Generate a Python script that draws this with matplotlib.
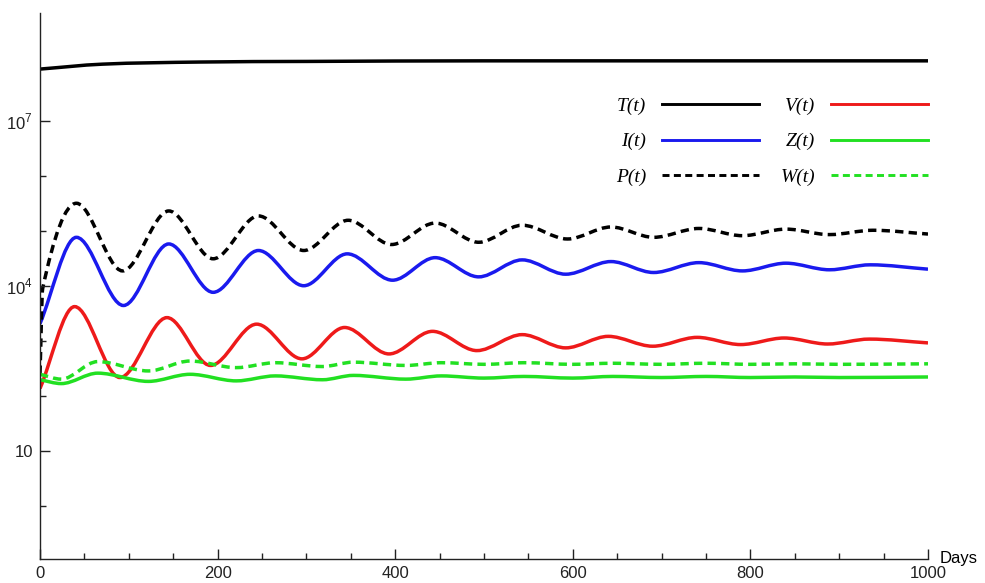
import numpy as np
import matplotlib
matplotlib.use("Agg")
import matplotlib.pyplot as plt
from matplotlib.path import Path
from matplotlib.patches import PathPatch
from matplotlib.lines import Line2D
from matplotlib.ticker import FixedLocator, FixedFormatter

plt.rcParams['mathtext.fontset'] = 'custom'
plt.rcParams['mathtext.rm'] = 'Liberation Sans'

# values (days, population)
t_T = [0, 70, 180, 300, 500, 1000]
T_vals = [8.71e7, 1.07e8, 1.17e8, 1.20e8, 1.23e8, 1.23e8]

t_P = [0, 3, 41, 93, 145, 195, 246, 297, 347, 396, 445, 494, 543, 594, 643, 691, 742, 791, 840, 889, 938, 1000]
P_vals = [250, 8900, 3.16e5, 1.86e4, 2.29e5, 3.09e4, 1.86e5, 4.37e4, 1.55e5, 5.62e4, 1.38e5,
          6.17e4, 1.26e5, 7.08e4, 1.17e5, 7.59e4, 1.10e5, 8.13e4, 1.07e5, 8.51e4, 1.02e5, 8.71e4]

t_I = [0, 41, 94, 145, 195, 246, 297, 346, 397, 445, 494, 543, 592, 643, 691, 742, 791, 840, 889, 935, 1000]
I_vals = [2040, 7.59e4, 4370, 5.75e4, 7590, 4.37e4, 1.00e4, 3.80e4, 1.26e4, 3.24e4, 1.45e4,
          2.95e4, 1.62e4, 2.75e4, 1.74e4, 2.63e4, 1.86e4, 2.57e4, 1.95e4, 2.40e4, 2.00e4]

t_V = [0, 39, 90, 143, 192, 244, 295, 343, 393, 442, 492, 543, 592, 640, 690, 740, 789, 838, 887, 934, 1000]
V_vals = [135, 4170, 214, 2630, 355, 2000, 468, 1740, 575, 1480, 661,
          1290, 741, 1200, 794, 1150, 851, 1120, 871, 1070, 912]

t_ZW = [0, 24, 65, 122, 169, 221, 265, 318, 353, 412, 452, 500, 545, 600, 645, 700, 750, 800, 850, 900, 1000]
W_vals = [245, 200, 417, 282, 427, 324, 398, 339, 407, 355, 398,
          372, 398, 372, 389, 372, 389, 372, 380, 372, 380]
Z_vals = [195, 166, 257, 182, 245, 186, 229, 195, 234, 200, 229,
          209, 224, 209, 224, 214, 224, 214, 219, 214, 219]

x_major = [0, 200, 400, 600, 800, 1000]
y_major = [10, 1e4, 1e7]
y_major_labels = ['10', r'$10^{4}$', r'$10^{7}$']
y_minor = [1, 100, 1000, 1e5, 1e6]


def smooth_path(t, v):
    # cubic bezier through the read points, tangents taken in log space
    t = np.asarray(t, float)
    v = np.asarray(v, float)
    ly = np.log10(v)
    n = len(t)
    m = np.zeros(n)
    for i in range(n):
        if i == 0:
            m[i] = (ly[1] - ly[0]) / (t[1] - t[0])
        elif i == n - 1:
            m[i] = (ly[-1] - ly[-2]) / (t[-1] - t[-2])
        elif (ly[i] - ly[i - 1]) * (ly[i + 1] - ly[i]) <= 0:
            m[i] = 0.0
        else:
            m[i] = (ly[i + 1] - ly[i - 1]) / (t[i + 1] - t[i - 1])
    verts = [(t[0], v[0])]
    codes = [Path.MOVETO]
    for i in range(n - 1):
        h = (t[i + 1] - t[i]) / 3
        verts += [(t[i] + h, 10 ** (ly[i] + m[i] * h)),
                  (t[i + 1] - h, 10 ** (ly[i + 1] - m[i + 1] * h)),
                  (t[i + 1], v[i + 1])]
        codes += [Path.CURVE4] * 3
    return Path(verts, codes)


fig = plt.figure(figsize=(9.85, 5.83), dpi=100)
ax = fig.add_axes([40 / 985, 24 / 583, 888 / 985, 546 / 583])
ax.set_yscale('log')
ax.set_xlim(0, 1000)
ax.set_ylim(10 ** -0.97, 10 ** 8.96)

lw = 2.5
green = '#22e022'
dash = (0, (2.4, 1.5))
series = [
    (t_T, T_vals, 'black', '-'),
    (t_I, I_vals, '#1a1aee', '-'),
    (t_P, P_vals, 'black', dash),
    (t_V, V_vals, '#ee1a1a', '-'),
    (t_ZW, Z_vals, green, '-'),
    (t_ZW, W_vals, green, dash),
]
for t, v, c, ls in series:
    ax.add_patch(PathPatch(smooth_path(t, v), fill=False, edgecolor=c,
                           linewidth=lw, linestyle=ls, capstyle='butt'))

handles = [Line2D([], [], color=c, lw=lw - 0.4, ls=ls) for _, _, c, ls in series]
labels = ['T(t)', 'I(t)', 'P(t)', 'V(t)', 'Z(t)', 'W(t)']
ax.legend(handles, labels, ncol=2, markerfirst=False, frameon=False,
          loc='upper right', bbox_to_anchor=(1.0, 0.845), borderaxespad=0, borderpad=0,
          handlelength=5.0, handletextpad=0.8, columnspacing=1.1, labelspacing=0.9,
          prop={'family': 'Liberation Serif', 'style': 'italic', 'size': 14})

for s in ['top', 'right']:
    ax.spines[s].set_visible(False)
for s in ['left', 'bottom']:
    ax.spines[s].set_linewidth(1.0)
    ax.spines[s].set_color('#222222')

ax.set_xticks(x_major)
ax.set_xticklabels([str(x) for x in x_major], family=['Liberation Sans Narrow', 'Liberation Sans'], fontsize=12)
ax.xaxis.set_minor_locator(FixedLocator([x for x in range(50, 1000, 50) if x % 200]))
ax.yaxis.set_major_locator(FixedLocator(y_major))
ax.yaxis.set_major_formatter(FixedFormatter(y_major_labels))
ax.yaxis.set_minor_locator(FixedLocator(y_minor))
ax.yaxis.set_minor_formatter(FixedFormatter([''] * len(y_minor)))
for lab in ax.get_yticklabels():
    lab.set_family('Liberation Sans')
    lab.set_fontsize(12)
ax.tick_params(which='major', direction='in', length=7, width=1.0, colors='#222222', pad=5)
ax.tick_params(which='minor', direction='in', length=4, width=1.0, colors='#222222')
ax.tick_params(axis='x', which='major', pad=5)

ax.text(1.013, 0.0, 'Days', transform=ax.transAxes, ha='left', va='center',
        family=['Liberation Sans Narrow', 'Liberation Sans'], fontsize=12)

fig.savefig('out.png', dpi=100)
